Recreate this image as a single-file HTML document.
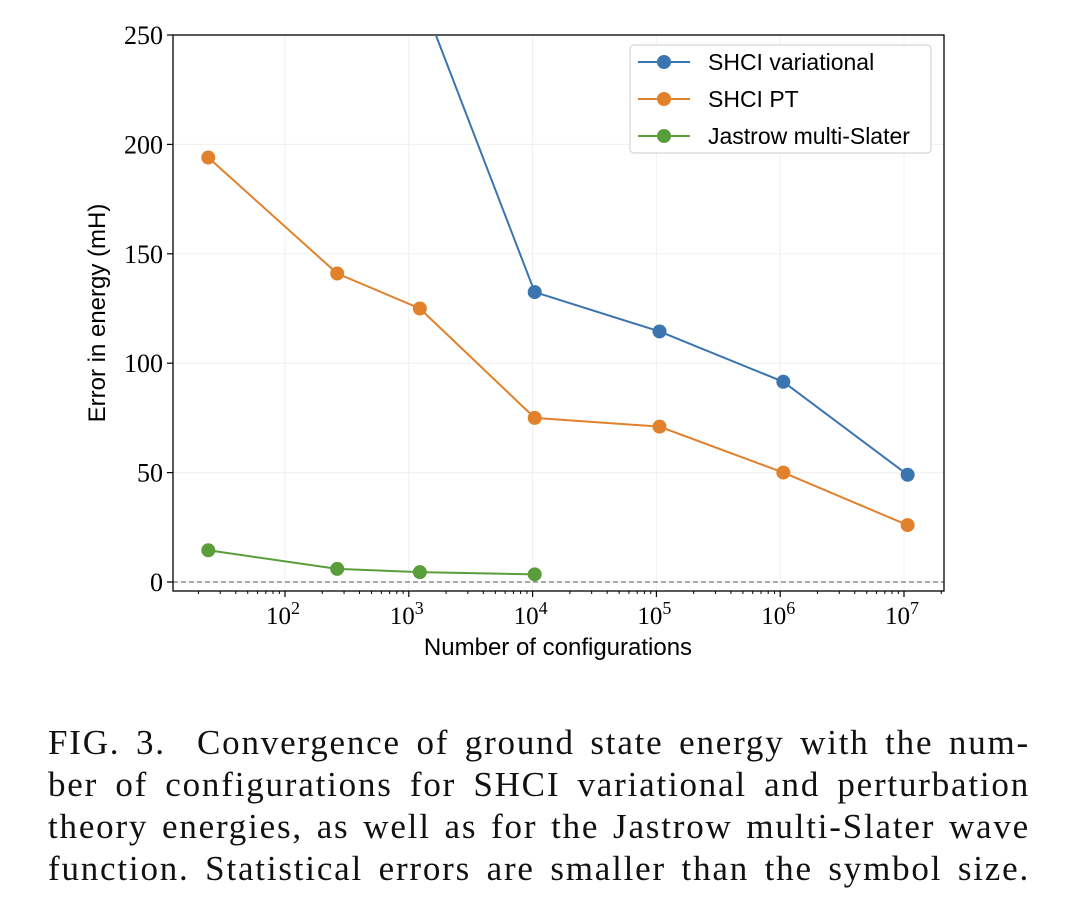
<!DOCTYPE html>
<html><head><meta charset="utf-8"><style>
body{margin:0;background:#fff;width:1078px;height:918px;overflow:hidden;position:relative}
#cap{position:absolute;left:48px;top:722px;width:982px;font-family:"Liberation Serif",serif;font-size:35px;letter-spacing:1.8px;line-height:42px;color:#111}
#cap span{display:block;white-space:nowrap;text-align:justify;text-align-last:justify}
</style></head><body>
<svg id="chart" width="1078" height="700" style="position:absolute;left:0;top:0"></svg>
<div id="cap">
<span>FIG. 3.&nbsp; Convergence of ground state energy with the num-</span>
<span>ber of configurations for SHCI variational and perturbation</span>
<span>theory energies, as well as for the Jastrow multi-Slater wave</span>
<span>function. Statistical errors are smaller than the symbol size.</span>
</div>
<script>
const xVals=[24,264,1228,10400,106000,1060000,10700000];
const varX=[1228,10400,106000,1060000,10700000];
const varY=[269,132.5,114.5,91.5,49];
const ptX=[24,264,1228,10400,106000,1060000,10700000];
const ptY=[194,141,125,75,71,50,26];
const jasX=[24,264,1228,10400];
const jasY=[14.5,6,4.5,3.5];
const yTicks=[0,50,100,150,200,250];
const xTickExp=[2,3,4,5,6,7];
const L=173,R=944,T=35,B=591;
const NS="http://www.w3.org/2000/svg";
const svg=document.getElementById('chart');
function X(v){return 285+(Math.log10(v)-2)*123.8;}
function Y(v){return 582-v*2.188;}
function mk(t,a,p){const e=document.createElementNS(NS,t);for(const k in a)e.setAttribute(k,a[k]);(p||svg).appendChild(e);return e;}
const defs=mk('defs',{});const cp=mk('clipPath',{id:'cp'},defs);mk('rect',{x:L,y:T,width:R-L,height:B-T},cp);
for(const t of yTicks){const g=mk('line',{x1:L,x2:R,y1:Y(t),y2:Y(t),stroke:'#f0f0f0','stroke-width':1});

}
for(const e of xTickExp){const g=mk('line',{x1:X(10**e),x2:X(10**e),y1:T,y2:B,stroke:'#f0f0f0','stroke-width':1});

}
const z=mk('line',{x1:L,x2:R,y1:Y(0),y2:Y(0),stroke:'#777','stroke-width':1.2,'stroke-dasharray':'5,3'});


const fr=mk('rect',{x:L,y:T,width:R-L,height:B-T,fill:'none',stroke:'#000','stroke-width':1.3});


for(const t of yTicks){mk('line',{x1:L-6,x2:L,y1:Y(t),y2:Y(t),stroke:'#000','stroke-width':1.2});
const tx=mk('text',{x:L-10,y:Y(t)+9,'text-anchor':'end','font-family':'Liberation Serif, serif','font-size':26});tx.textContent=t;

}
for(const e of xTickExp){const x=X(10**e);mk('line',{x1:x,x2:x,y1:B,y2:B+6,stroke:'#000','stroke-width':1.2});
for(let m=2;m<10;m++){const xm=X(m*10**(e-1));if(xm>L&&xm<R)mk('line',{x1:xm,x2:xm,y1:B,y2:B+3,stroke:'#000','stroke-width':1});}
const tx=mk('text',{x:x-2,y:B+33,'text-anchor':'middle','font-family':'Liberation Serif, serif','font-size':25});
tx.innerHTML='10<tspan dy="-10" font-size="18">'+e+'</tspan>';

}
for(let m=2;m<10;m++){const xm=X(m*10**7);if(xm<R)mk('line',{x1:xm,x2:xm,y1:B,y2:B+3,stroke:'#000'});}
let t=mk('text',{x:558,y:655,'text-anchor':'middle','font-family':'Liberation Sans, sans-serif','font-size':24});t.textContent='Number of configurations';


t=mk('text',{x:105,y:313,'text-anchor':'middle','font-family':'Liberation Sans, sans-serif','font-size':24,transform:'rotate(-90 105 313)'});t.textContent='Error in energy (mH)';


function series(xs,ys,col,name){const g=mk('g',{'clip-path':'url(#cp)'});


mk('polyline',{points:xs.map((x,i)=>X(x)+','+Y(ys[i])).join(' '),fill:'none',stroke:col,'stroke-width':2},g);
xs.forEach((x,i)=>{const c=mk('circle',{cx:X(x),cy:Y(ys[i]),r:7,fill:col},g);

});}
series(varX,varY,'#3b75af','shci-variational-series');
series(ptX,ptY,'#e1812c','shci-pt-series');
series(jasX,jasY,'#5a9e3c','jastrow-series');
const lg=mk('g',{});


mk('rect',{x:630,y:45,width:301,height:108,rx:4,fill:'#fff',stroke:'#ccc'},lg);
[['SHCI variational','#3b75af'],['SHCI PT','#e1812c'],['Jastrow multi-Slater','#5a9e3c']].forEach((d,i)=>{
const y=62+i*37;const e=mk('g',{},lg);


mk('line',{x1:638,x2:690,y1:y,y2:y,stroke:d[1],'stroke-width':2},e);
mk('circle',{cx:664,cy:y,r:7,fill:d[1]},e);
const tt=mk('text',{x:708,y:y+8,'font-family':'Liberation Sans, sans-serif','font-size':23},e);tt.textContent=d[0];});
</script>
</body></html>
